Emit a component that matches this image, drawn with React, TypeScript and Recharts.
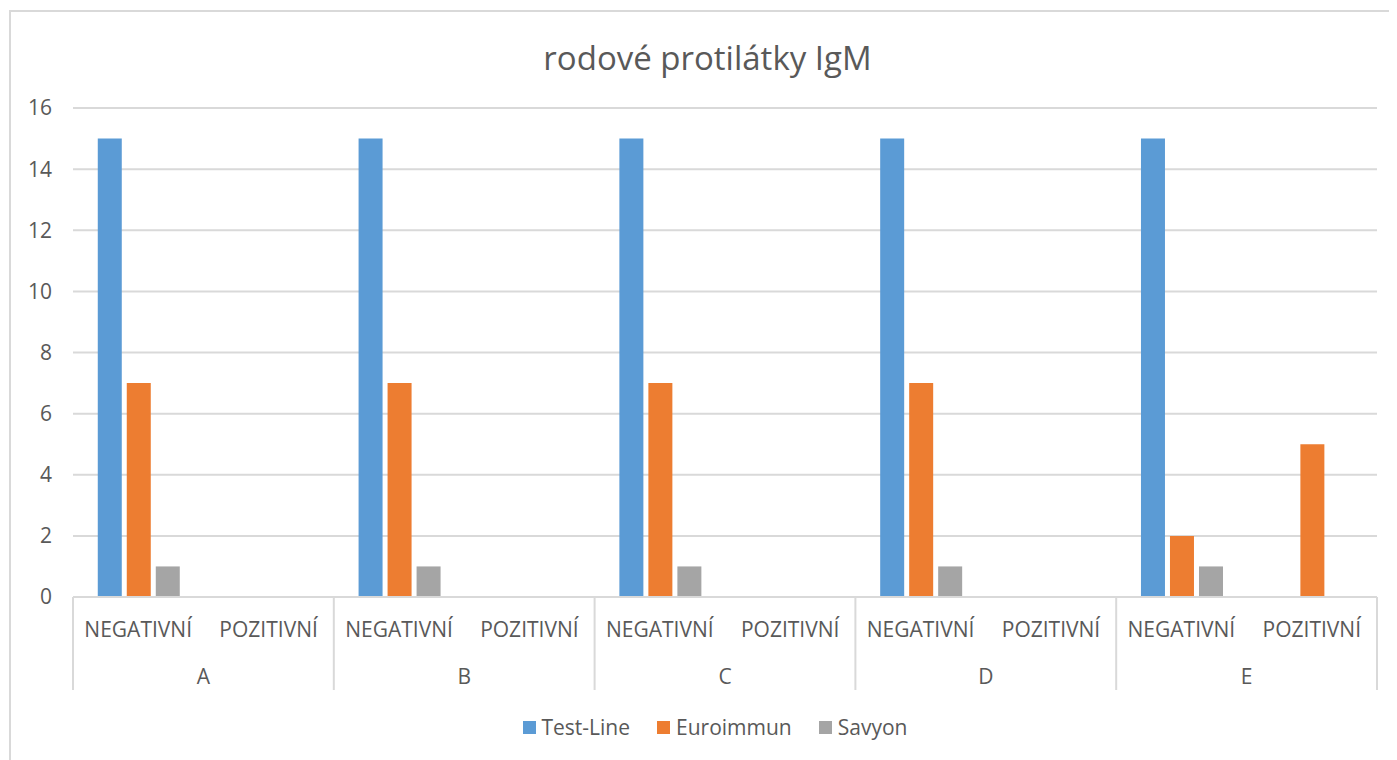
import React from 'react';
import { BarChart, Bar, XAxis, YAxis, CartesianGrid, Legend } from 'recharts';

const groups = ['A', 'B', 'C', 'D', 'E'];
const results = ['NEGATIVNÍ', 'POZITIVNÍ'];
const testLine = [15, 0, 15, 0, 15, 0, 15, 0, 15, 0];
const euroimmun = [7, 0, 7, 0, 7, 0, 7, 0, 2, 5];
const savyon = [1, 0, 1, 0, 1, 0, 1, 0, 1, 0];
const yTicks = [0, 2, 4, 6, 8, 10, 12, 14, 16];

const seriesList = [
  { key: 'testLine', name: 'Test-Line', color: '#5b9bd5' },
  { key: 'euroimmun', name: 'Euroimmun', color: '#ed7d31' },
  { key: 'savyon', name: 'Savyon', color: '#a5a5a5' },
];

const data = groups.flatMap((g, gi) =>
  results.map((r, ri) => {
    const i = gi * results.length + ri;
    return { cat: r, group: g, testLine: testLine[i], euroimmun: euroimmun[i], savyon: savyon[i] };
  })
);

const W = 1389;
const H = 752;
const margin = { top: 100, right: 20, left: 0, bottom: 13 };
const yAxisWidth = 65;
const band = (W - margin.left - margin.right - yAxisWidth) / data.length;
const FONT = '"Open Sans", sans-serif';
const TEXT = '#595959';
const GRID = '#d9d9d9';

const CategoryTick = (props: any) => {
  const { x, y, payload } = props;
  return (
    <text x={x} y={y + 32} textAnchor="middle" dominantBaseline="central" fill={TEXT} fontSize={21} fontFamily={FONT}>
      {payload.value}
    </text>
  );
};

const GroupTick = (props: any) => {
  const { x, y, index } = props;
  const idx = index ?? props.payload?.index ?? 0;
  const row = data[idx];
  const first = idx % results.length === 0;
  const last = idx === data.length - 1;
  return (
    <g>
      {first && (
        <line x1={x - band / 2} x2={x - band / 2} y1={y - 50} y2={y + 43} stroke={GRID} strokeWidth={2} />
      )}
      {last && (
        <line x1={x + band / 2} x2={x + band / 2} y1={y - 50} y2={y + 43} stroke={GRID} strokeWidth={2} />
      )}
      {first && (
        <text x={x + band / 2} y={y + 29} textAnchor="middle" dominantBaseline="central" fill={TEXT} fontSize={21} fontFamily={FONT}>
          {row?.group}
        </text>
      )}
    </g>
  );
};

const LegendContent = () => (
  <div style={{ display: 'flex', justifyContent: 'center', alignItems: 'center', height: 40, paddingLeft: 72, fontFamily: FONT, fontSize: 21, color: TEXT }}>
    {seriesList.map((s) => (
      <div key={s.key} style={{ display: 'flex', alignItems: 'center', marginRight: 27 }}>
        <span style={{ display: 'inline-block', width: 13, height: 13, background: s.color, marginRight: 6 }} />
        <span>{s.name}</span>
      </div>
    ))}
  </div>
);

export default function App() {
  return (
    <div style={{ position: 'relative', width: W, height: H, overflow: 'hidden', background: '#fff' }}>
      <div
        style={{
          position: 'absolute', left: 1, top: 2, width: W + 10, height: H + 10,
          borderLeft: `2px solid ${GRID}`, borderTop: `2px solid ${GRID}`, boxSizing: 'border-box',
        }}
      />
      <div
        style={{
          position: 'absolute', left: 0, top: 30, width: 1399, textAlign: 'center',
          fontFamily: FONT, fontSize: 33, color: TEXT, lineHeight: '40px',
        }}
      >
        rodové protilátky IgM
      </div>
      <BarChart width={W} height={H} data={data} margin={margin} barCategoryGap="19%" barGap={5}>
        <CartesianGrid vertical={false} stroke={GRID} strokeWidth={2} />
        <XAxis
          dataKey="cat"
          interval={0}
          height={50}
          tickLine={false}
          tickSize={0}
          tickMargin={0}
          axisLine={{ stroke: GRID, strokeWidth: 2 }}
          tick={<CategoryTick />}
        />
        <XAxis
          xAxisId="group"
          dataKey="cat"
          interval={0}
          height={60}
          tickLine={false}
          tickSize={0}
          tickMargin={0}
          axisLine={false}
          tick={<GroupTick />}
        />
        <YAxis
          width={yAxisWidth}
          domain={[0, 16]}
          ticks={yTicks}
          interval={0}
          axisLine={false}
          tickLine={false}
          tickSize={0}
          tickMargin={21}
          tick={{ fill: TEXT, fontSize: 21, fontFamily: FONT }}
        />
        <Legend verticalAlign="bottom" content={<LegendContent />} />
        {seriesList.map((s) => (
          <Bar key={s.key} dataKey={s.key} name={s.name} fill={s.color} isAnimationActive={false} />
        ))}
      </BarChart>
    </div>
  );
}
